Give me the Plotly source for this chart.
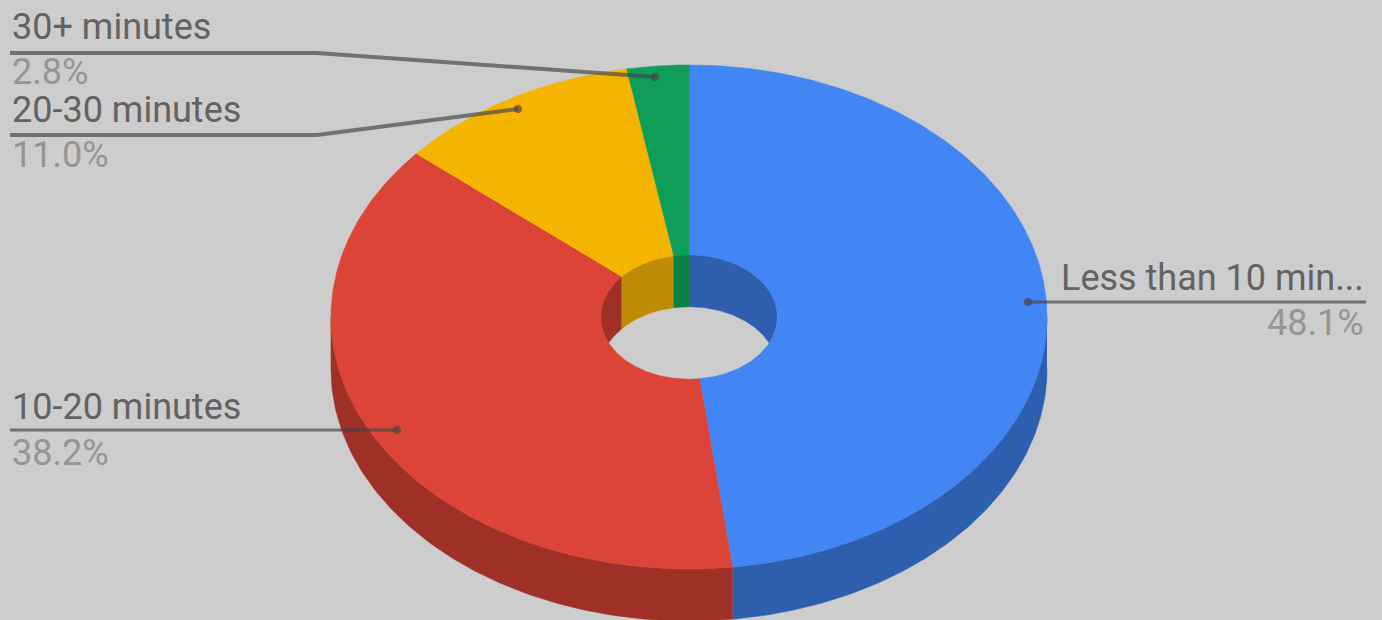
import numpy as np
import plotly.graph_objects as go

categories = ["Less than 10 min...", "10-20 minutes", "20-30 minutes", "30+ minutes"]
values = [48.1, 38.2, 11.0, 2.8]
percent_labels = ["48.1%", "38.2%", "11.0%", "2.8%"]
top_colors = ["#4285f4", "#db4437", "#f4b400", "#0f9d58"]
side_colors = ["#2d5fae", "#9f3027", "#bd8c04", "#0b8044"]

W, H = 1382, 620
BG = "#cdcdcd"
CX, CY, RX, RY = 689.0, 317.0, 358.0, 252.0
HOLE = 0.247
DEPTH = 52.0

fracs = np.array(values) / sum(values)
edges = np.concatenate([[0], np.cumsum(fracs)]) * 2 * np.pi


def ex(t, k=1.0):
    return CX + RX * k * np.sin(t)


def ey(t, k=1.0, dy=0.0):
    return CY - RY * k * np.cos(t) + dy


def poly(x, y, color):
    return go.Scatter(x=list(x), y=list(y), mode="lines", fill="toself", fillcolor=color,
                      line=dict(color=color, width=0.6), hoverinfo="skip", showlegend=False)


fig = go.Figure()

# outer wall: only the front half of the ring can be seen
for a, b, c in zip(edges[:-1], edges[1:], side_colors):
    lo, hi = max(a, np.pi / 2), min(b, 3 * np.pi / 2)
    if hi <= lo:
        continue
    t = np.linspace(lo, hi, 120)
    fig.add_trace(poly(np.r_[ex(t), ex(t[::-1])],
                       np.r_[ey(t), ey(t[::-1], dy=DEPTH)], c))

# inner wall: the part of the hole not covered by the shifted lower rim
hrx, hry = RX * HOLE, RY * HOLE
for a, b, c in zip(edges[:-1], edges[1:], side_colors):
    ts = np.linspace(a, b, 200)
    ts = ts[np.cos(ts) >= 0]
    if ts.size == 0:
        continue
    x = ex(ts, HOLE)
    order = np.argsort(x)
    x = x[order]
    root = np.sqrt(np.clip(1 - ((x - CX) / hrx) ** 2, 0, 1))
    y_top = CY - hry * root
    y_low = np.minimum(CY + hry * root, CY + DEPTH - hry * root)
    fig.add_trace(poly(np.r_[x, x[::-1]], np.r_[y_top, y_low[::-1]], c))

# top faces
for a, b, c in zip(edges[:-1], edges[1:], top_colors):
    t = np.linspace(a, b, 240)
    fig.add_trace(poly(np.r_[ex(t), ex(t[::-1], HOLE)],
                       np.r_[ey(t), ey(t[::-1], HOLE)], c))

# leader lines: (points, width)
leaders = [
    ([1366, 1028], [302, 302], 3),
    ([10, 397], [430, 430], 3),
    ([10, 317, 518], [135, 135, 109], 4),
    ([10, 317, 655], [53, 53, 77], 4),
]
LEADER = "rgba(70,70,70,0.68)"
for xs, ys, w in leaders:
    fig.add_trace(go.Scatter(x=xs, y=ys, mode="lines", line=dict(color=LEADER, width=w),
                             hoverinfo="skip", showlegend=False))
    fig.add_trace(go.Scatter(x=xs[-1:], y=ys[-1:], mode="markers",
                             marker=dict(color=LEADER, size=8), hoverinfo="skip", showlegend=False))

# labels: anchor x, label y, percent y, side
placement = [
    (1366, 278, 323, "right"),
    (10, 407, 453, "left"),
    (10, 110, 155, "left"),
    (10, 27, 72, "left"),
]
FONT = "Roboto"
SIZE = 36
for cat, pct, (x, y1, y2, side) in zip(categories, percent_labels, placement):
    fig.add_annotation(x=x, y=y1, text=cat, showarrow=False, xanchor=side, yanchor="middle",
                       xref="x", yref="y", font=dict(family=FONT, size=SIZE, color="#626262"))
    fig.add_annotation(x=x, y=y2, text=pct, showarrow=False, xanchor=side, yanchor="middle",
                       xref="x", yref="y", font=dict(family=FONT, size=SIZE, color="#959595"))

fig.update_layout(
    width=W, height=H, margin=dict(l=0, r=0, t=0, b=0),
    paper_bgcolor=BG, plot_bgcolor=BG, showlegend=False,
    xaxis=dict(range=[0, W], visible=False, fixedrange=True),
    yaxis=dict(range=[H, 0], visible=False, fixedrange=True),
)
fig.write_html("out.html", config=dict(displayModeBar=False),
               post_script="document.body.style.margin='0';document.body.style.overflow='hidden';")
